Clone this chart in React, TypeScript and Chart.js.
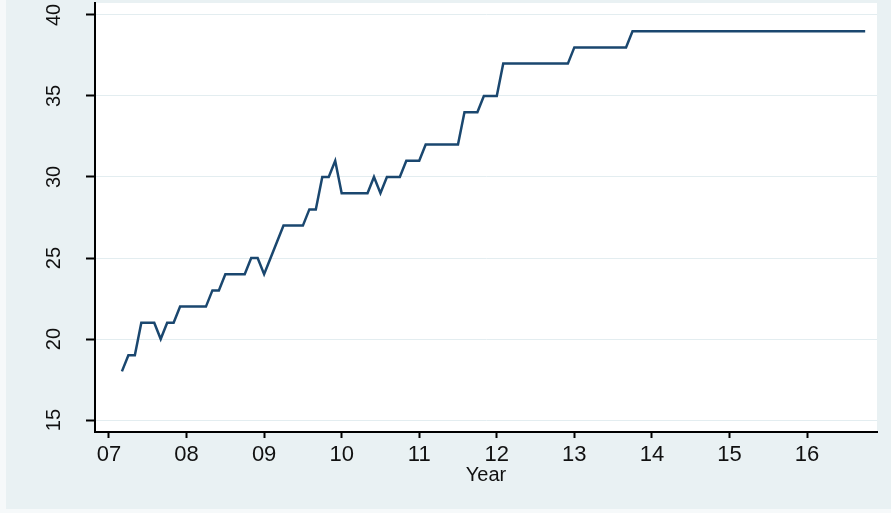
import React, { useEffect, useRef } from "react";
import { Chart, registerables } from "chart.js";

Chart.register(...registerables);

// Monthly series starting March 2007 (years counted from 2000)
const startYear = 7;
const startMonth = 2; // 0 = January
const seriesValues = [
  18, 19, 19, 21, 21, 21, 20, 21, 21, 22, // 2007 Mar-Dec
  22, 22, 22, 22, 23, 23, 24, 24, 24, 24, 25, 25, // 2008
  24, 25, 26, 27, 27, 27, 27, 28, 28, 30, 30, 31, // 2009
  29, 29, 29, 29, 29, 30, 29, 30, 30, 30, 31, 31, // 2010
  31, 32, 32, 32, 32, 32, 32, 34, 34, 34, 35, 35, // 2011
  35, 37, 37, 37, 37, 37, 37, 37, 37, 37, 37, 37, // 2012
  38, 38, 38, 38, 38, 38, 38, 38, 38, 39, 39, 39, // 2013
  39, 39, 39, 39, 39, 39, 39, 39, 39, 39, 39, 39, // 2014
  39, 39, 39, 39, 39, 39, 39, 39, 39, 39, 39, 39, // 2015
  39, 39, 39, 39, 39, 39, 39, 39, 39, 39, // 2016 Jan-Oct
];

const xTickValues = [7, 8, 9, 10, 11, 12, 13, 14, 15, 16];
const xTickLabels = ["07", "08", "09", "10", "11", "12", "13", "14", "15", "16"];
const yTickValues = [15, 20, 25, 30, 35, 40];
const xTitle = "Year";

const FONT = "'Liberation Sans', Arial, Helvetica, sans-serif";

const plotBg = {
  id: "plotBg",
  beforeDraw(chart: any) {
    const { ctx, chartArea } = chart;
    ctx.save();
    ctx.fillStyle = "#ffffff";
    ctx.fillRect(chartArea.left, chartArea.top, chartArea.right - chartArea.left, chartArea.bottom - chartArea.top);
    ctx.restore();
  },
};

export default function App() {
  const ref = useRef<HTMLCanvasElement | null>(null);

  useEffect(() => {
    if (!ref.current) return;
    const points = seriesValues.map((v, i) => ({ x: startYear + (startMonth + i) / 12, y: v }));
    const chart = new Chart(ref.current, {
      type: "line",
      data: {
        datasets: [
          {
            data: points,
            borderColor: "#1a476f",
            borderWidth: 2.5,
            pointRadius: 0,
            tension: 0,
            fill: false,
          },
        ],
      },
      options: {
        animation: false,
        responsive: false,
        devicePixelRatio: 1,
        layout: { padding: { top: 3, right: 14, bottom: 0, left: 0 } },
        plugins: { legend: { display: false }, tooltip: { enabled: false } },
        scales: {
          x: {
            type: "linear",
            min: 6.8195,
            max: 16.9025,
            afterBuildTicks: (s: any) => {
              s.ticks = xTickValues.map((v) => ({ value: v }));
            },
            afterFit: (s: any) => {
              s.height = 81;
              s.paddingLeft = 0;
              s.paddingRight = 0;
            },
            grid: {
              drawOnChartArea: false,
              drawTicks: true,
              tickLength: 6,
              tickColor: "#000",
              tickWidth: 2,
            },
            border: { display: true, color: "#000", width: 2 },
            ticks: {
              autoSkip: false,
              maxRotation: 0,
              minRotation: 0,
              padding: 4,
              color: "#111",
              font: { family: FONT, size: 22 },
              callback: (v: any) => {
                const i = xTickValues.indexOf(Number(v));
                return i >= 0 ? xTickLabels[i] : "";
              },
            },
            title: {
              display: true,
              text: xTitle,
              color: "#111",
              font: { family: FONT, size: 20 },
              padding: { top: 0, bottom: 26 },
            },
          },
          y: {
            type: "linear",
            min: 14.26,
            max: 40.74,
            afterBuildTicks: (s: any) => {
              s.ticks = yTickValues.map((v) => ({ value: v }));
            },
            afterFit: (s: any) => {
              s.width = 95;
              s.paddingTop = 0;
              s.paddingBottom = 0;
            },
            grid: {
              color: "#e3edf0",
              lineWidth: 1,
              drawTicks: true,
              tickLength: 9,
              tickColor: "#000",
              tickWidth: 2,
            },
            border: { display: true, color: "#000", width: 2 },
            ticks: {
              minRotation: 90,
              maxRotation: 90,
              crossAlign: "center",
              padding: 20,
              color: "#111",
              font: { family: FONT, size: 20 },
            },
          },
        },
      },
      plugins: [plotBg],
    } as any);
    return () => chart.destroy();
  }, []);

  return (
    <div style={{ position: "fixed", left: 0, top: 0, width: 891, height: 513, background: "#f6f9fa" }}>
      <div style={{ position: "absolute", left: 6, top: 0, right: 0, bottom: 4, background: "#e9f1f3" }} />
      <canvas ref={ref} width={891} height={513} style={{ position: "absolute", left: 0, top: 0, width: 891, height: 513 }} />
    </div>
  );
}
